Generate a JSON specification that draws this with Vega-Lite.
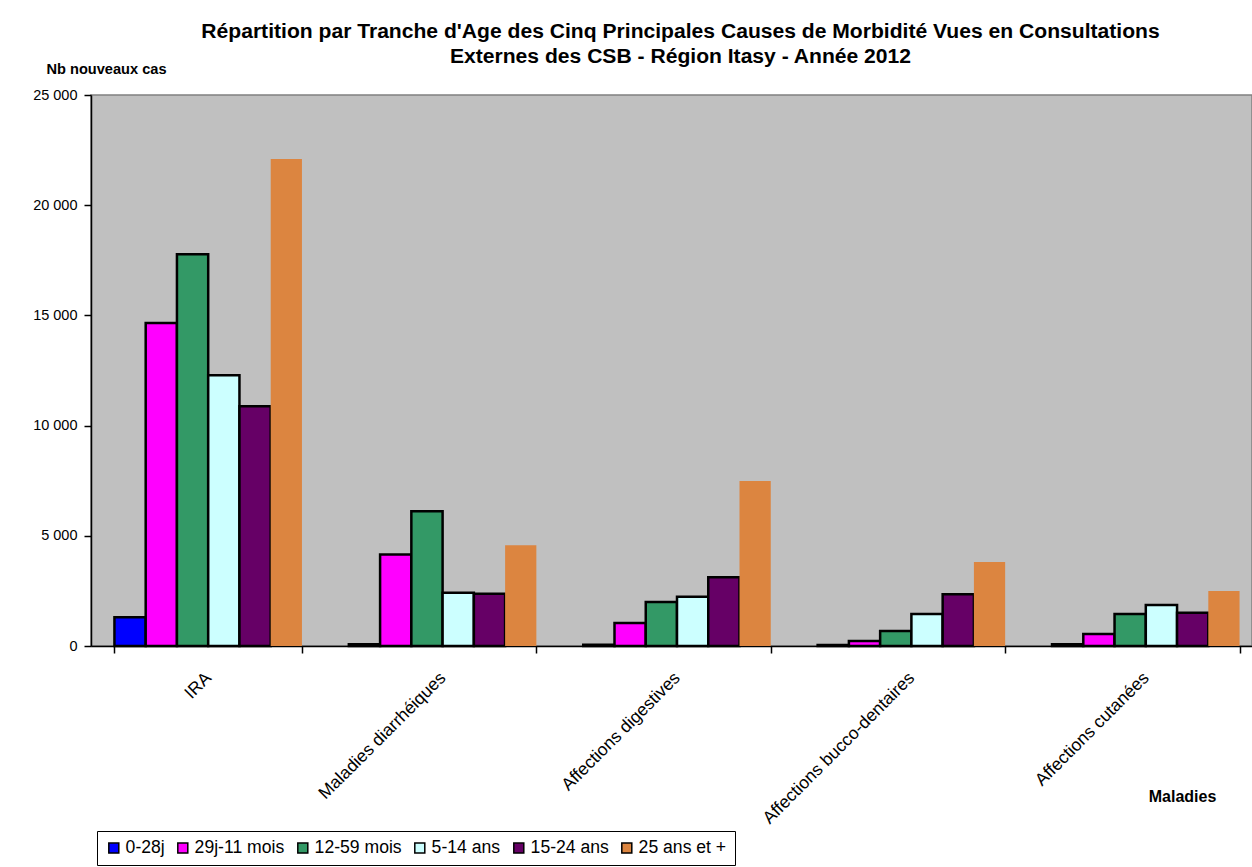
{
  "$schema": "https://vega.github.io/schema/vega-lite/v6.json",
  "autosize": {"type": "none"},
  "width": 1161,
  "height": 551,
  "padding": {"left": 91, "top": 95, "right": 0, "bottom": 221},
  "background": "white",
  "title": {
    "text": ["Répartition par Tranche d'Age des Cinq Principales Causes de Morbidité Vues en Consultations", "Externes des CSB - Région Itasy - Année  2012"],
    "font": "Liberation Sans",
    "fontSize": 21.1,
    "fontWeight": "bold",
    "color": "black",
    "anchor": "middle",
    "frame": "group",
    "lineHeight": 25,
    "offset": -6,
    "dx": 9
  },
  "config": {
    "font": "Liberation Sans",
    "locale": {"number": {"decimal": ",", "thousands": " ", "grouping": [3], "currency": ["", " €"]}},
    "view": {"fill": "#C0C0C0", "stroke": "#808080", "strokeWidth": 1.5}
  },
  "data": {
    "values": [
      {"maladie": "IRA", "age": "0-28j", "cas": 1300},
      {"maladie": "IRA", "age": "29j-11 mois", "cas": 14660},
      {"maladie": "IRA", "age": "12-59 mois", "cas": 17770},
      {"maladie": "IRA", "age": "5-14 ans", "cas": 12280},
      {"maladie": "IRA", "age": "15-24 ans", "cas": 10880},
      {"maladie": "IRA", "age": "25 ans et +", "cas": 22100},
      {"maladie": "Maladies diarrhéiques", "age": "0-28j", "cas": 80},
      {"maladie": "Maladies diarrhéiques", "age": "29j-11 mois", "cas": 4150},
      {"maladie": "Maladies diarrhéiques", "age": "12-59 mois", "cas": 6110},
      {"maladie": "Maladies diarrhéiques", "age": "5-14 ans", "cas": 2420},
      {"maladie": "Maladies diarrhéiques", "age": "15-24 ans", "cas": 2370},
      {"maladie": "Maladies diarrhéiques", "age": "25 ans et +", "cas": 4570},
      {"maladie": "Affections digestives", "age": "0-28j", "cas": 60},
      {"maladie": "Affections digestives", "age": "29j-11 mois", "cas": 1040},
      {"maladie": "Affections digestives", "age": "12-59 mois", "cas": 2000},
      {"maladie": "Affections digestives", "age": "5-14 ans", "cas": 2240},
      {"maladie": "Affections digestives", "age": "15-24 ans", "cas": 3120},
      {"maladie": "Affections digestives", "age": "25 ans et +", "cas": 7490},
      {"maladie": "Affections bucco-dentaires", "age": "0-28j", "cas": 40},
      {"maladie": "Affections bucco-dentaires", "age": "29j-11 mois", "cas": 230},
      {"maladie": "Affections bucco-dentaires", "age": "12-59 mois", "cas": 680},
      {"maladie": "Affections bucco-dentaires", "age": "5-14 ans", "cas": 1450},
      {"maladie": "Affections bucco-dentaires", "age": "15-24 ans", "cas": 2350},
      {"maladie": "Affections bucco-dentaires", "age": "25 ans et +", "cas": 3810},
      {"maladie": "Affections cutanées", "age": "0-28j", "cas": 80},
      {"maladie": "Affections cutanées", "age": "29j-11 mois", "cas": 540},
      {"maladie": "Affections cutanées", "age": "12-59 mois", "cas": 1450},
      {"maladie": "Affections cutanées", "age": "5-14 ans", "cas": 1860},
      {"maladie": "Affections cutanées", "age": "15-24 ans", "cas": 1510},
      {"maladie": "Affections cutanées", "age": "25 ans et +", "cas": 2500}
    ]
  },
  "mark": {"type": "bar", "strokeWidth": 2.5, "stroke": "black"},
  "encoding": {
    "x": {
      "field": "maladie",
      "type": "nominal",
      "sort": ["IRA", "Maladies diarrhéiques", "Affections digestives", "Affections bucco-dentaires", "Affections cutanées"],
      "scale": {"paddingInner": 0.2, "paddingOuter": 0.1, "range": [0, 1172]},
      "axis": {
        "title": "Maladies",
        "titleFont": "Liberation Sans",
        "titleFontSize": 16,
        "titleFontWeight": "bold",
        "titleColor": "black",
        "titleX": 1091,
        "titleY": 150,
        "titleAlign": "center",
        "titleBaseline": "middle",
        "labelAngle": -45,
        "labelAlign": "right",
        "labelBaseline": "middle",
        "labelFontSize": 17.5,
        "labelLimit": 0,
        "labelColor": "black",
        "labelPadding": 22,
        "tickBand": "extent",
        "tickSize": 7,
        "tickColor": "black",
        "tickWidth": 1.5,
        "domainColor": "black",
        "domainWidth": 1.5,
        "grid": false
      }
    },
    "xOffset": {
      "field": "age",
      "type": "nominal",
      "sort": ["0-28j", "29j-11 mois", "12-59 mois", "5-14 ans", "15-24 ans", "25 ans et +"]
    },
    "y": {
      "field": "cas",
      "type": "quantitative",
      "scale": {"domain": [0, 25000], "nice": false},
      "axis": {
        "title": "Nb nouveaux cas",
        "titleFont": "Liberation Sans",
        "titleFontSize": 14.6,
        "titleFontWeight": "bold",
        "titleColor": "black",
        "titleAngle": 0,
        "titleX": -45,
        "titleY": -26,
        "titleAlign": "left",
        "titleBaseline": "middle",
        "values": [0, 5000, 10000, 15000, 20000, 25000],
        "format": ",d",
        "labelFontSize": 14.5,
        "labelColor": "black",
        "labelPadding": 7,
        "tickSize": 7,
        "tickColor": "black",
        "tickWidth": 1.5,
        "domainColor": "black",
        "domainWidth": 1.5,
        "grid": false
      }
    },
    "color": {
      "field": "age",
      "type": "nominal",
      "sort": ["0-28j", "29j-11 mois", "12-59 mois", "5-14 ans", "15-24 ans", "25 ans et +"],
      "scale": {
        "domain": ["0-28j", "29j-11 mois", "12-59 mois", "5-14 ans", "15-24 ans", "25 ans et +"],
        "range": ["#0000FF", "#FF00FF", "#339966", "#CCFFFF", "#660066", "#DC8540"]
      },
      "legend": {
        "orient": "none",
        "legendX": 6,
        "legendY": 736,
        "direction": "horizontal",
        "columns": 6,
        "title": null,
        "strokeColor": "black",
        "padding": 8,
        "symbolType": "square",
        "symbolSize": 100,
        "symbolStrokeColor": "black",
        "symbolStrokeWidth": 1.5,
        "labelFont": "Liberation Sans",
        "labelFontSize": 17.6,
        "labelColor": "black",
        "labelOffset": 3,
        "columnPadding": 9
      }
    },
    "strokeOpacity": {
      "condition": {"test": "datum.age === '25 ans et +'", "value": 0},
      "value": 1
    }
  }
}
